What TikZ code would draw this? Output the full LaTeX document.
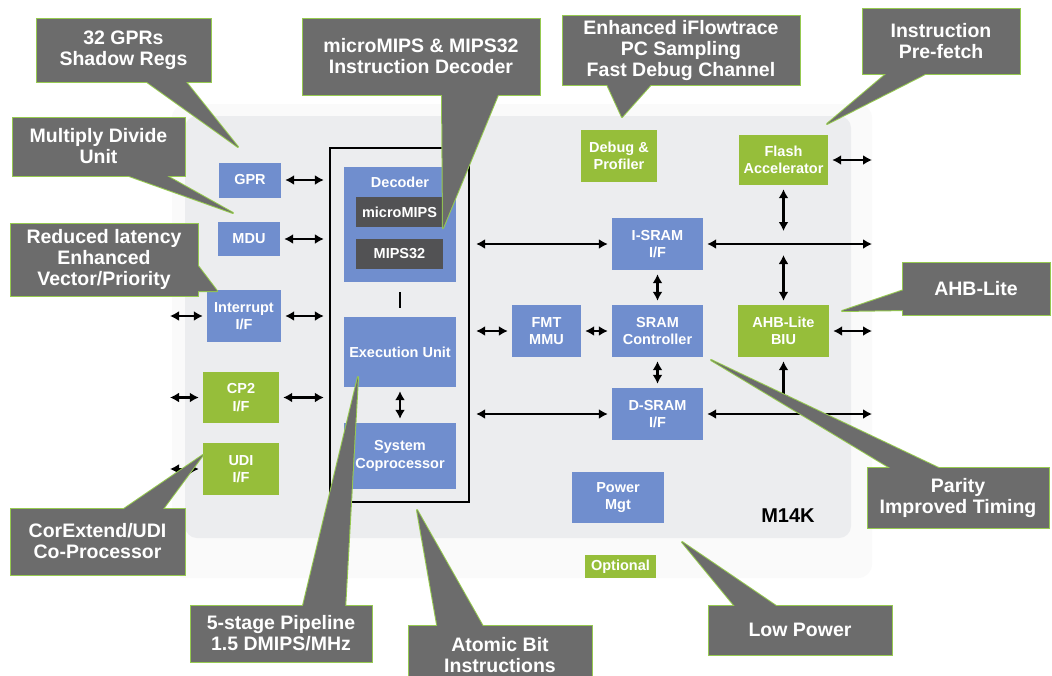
\documentclass[tikz,border=0pt]{standalone}
\usepackage{fontspec}
\setmainfont{Liberation Sans}
\usetikzlibrary{arrows.meta}
\definecolor{blockblue}{RGB}{112,142,206}
\definecolor{blockgreen}{RGB}{150,190,58}
\definecolor{darkbox}{RGB}{82,82,84}
\definecolor{notegray}{RGB}{108,108,108}
\definecolor{noteedge}{RGB}{150,202,80}
\definecolor{coregray}{RGB}{236,237,239}
\tikzset{
  block/.style={fill=blockblue, text=white, inner sep=0pt, align=center,
    font=\fontsize{14.5}{17.5}\selectfont\bfseries},
  opt/.style={block, fill=blockgreen},
  sub/.style={block, fill=darkbox},
  note/.style={fill=notegray, draw=noteedge, line width=1pt, text=white, inner sep=0pt,
    align=center, font=\fontsize{19.5}{21}\selectfont\bfseries},
  tipline/.style={draw=noteedge, line width=2pt, line join=round},
  link/.style={<->, line width=2.3pt, shorten <=4pt, shorten >=4pt}
}
% pointer of each callout: base point, tip, base point
\def\pointers{140/77/238/147/182/77, 115/171/233/213/158/171, 192/258/217/291/185/291,
  442/90/443/228/500/90, 605/80/622/117/655/80, 892/69/827/124/935/69,
  907/289/842/311/907/310, 897/472/711/360/947/472, 738/610/682/542/782/610,
  438/630/417/510/485/630, 302/610/358/377/345/610, 118/513/203/455/160/513}
\begin{document}
\begin{tikzpicture}[x=1pt, y=-1pt, >={Latex[length=9pt,width=10pt]}]
\useasboundingbox (0,0) rectangle (1052,675);
\clip (0,0) rectangle (1052,675);
\fill[white] (0,0) rectangle (1052,675);

% M14K core area
\fill[black!2, rounded corners=14pt] (172,104) rectangle (872,578);
\fill[coregray, rounded corners=12pt] (185,116) rectangle (851,538);
\node[font=\fontsize{20}{24}\selectfont\bfseries] (m14k) at (788,516) {M14K};

% pipeline frame and its blocks
\node[draw=black, line width=2.3pt, minimum width=139pt, minimum height=354pt, inner sep=0pt] (core) at (399.5,325) {};
\node[block, minimum width=112pt, minimum height=115pt,
  label={[anchor=north, yshift=-7pt, text=white, font=\fontsize{14.5}{17.5}\selectfont\bfseries]north:Decoder}] (decoder) at (400,224.5) {};
\node[sub, minimum width=87pt, minimum height=30pt] (umips) at (399.5,212) {microMIPS};
\node[sub, minimum width=87pt, minimum height=30pt] (mips32) at (399.5,254) {MIPS32};
\node[block, minimum width=112pt, minimum height=70pt] (exec) at (400,352) {Execution Unit};
\node[block, minimum width=112pt, minimum height=66pt] (syscop) at (400,456) {System\\Coprocessor};
\draw[line width=2.3pt, shorten <=10pt, shorten >=9pt] (decoder) -- (exec);
\draw[link] (exec) -- (syscop);

% left side
\node[block, minimum width=62pt, minimum height=35pt] (gpr) at (250,180) {GPR};
\node[block, minimum width=62pt, minimum height=34pt] (mdu) at (249,239) {MDU};
\node[block, minimum width=74pt, minimum height=52pt] (intr) at (244,316) {Interrupt\\I/F};
\node[opt, minimum width=76pt, minimum height=51pt] (cp2) at (241,397.5) {CP2\\I/F};
\node[opt, minimum width=76pt, minimum height=52pt] (udi) at (241,469) {UDI\\I/F};
\coordinate (intrin) at (166,316);
\coordinate (cp2in) at (166,397.5);
\coordinate (udiin) at (166,469);

\foreach \n in {gpr,mdu,intr,cp2}
  \draw[link, shorten >=5pt] (\n) -- (\n -| core.west);
\foreach \n in {intr,cp2,udi}
  \draw[link] (\n in) -- (\n);

% right side
\node[opt, minimum width=76pt, minimum height=52pt] (debug) at (619,156) {Debug \&\\Profiler};
\node[block, minimum width=91pt, minimum height=52pt] (isram) at (657.5,244) {I-SRAM\\I/F};
\node[block, minimum width=91pt, minimum height=52pt] (sramc) at (657.5,331) {SRAM\\Controller};
\node[block, minimum width=91pt, minimum height=52pt] (dsram) at (657.5,414) {D-SRAM\\I/F};
\node[block, minimum width=69pt, minimum height=52pt] (fmt) at (546.5,331) {FMT\\MMU};
\node[block, minimum width=92pt, minimum height=51pt] (power) at (618,497.5) {Power\\Mgt};
\node[opt, minimum width=89pt, minimum height=50pt] (flash) at (783.5,160) {Flash\\Accelerator};
\node[opt, minimum width=91pt, minimum height=52pt] (ahb) at (783.5,331) {AHB-Lite\\BIU};
\node[opt, minimum width=71pt, minimum height=23pt] (optional) at (620.5,566.5) {Optional};
\coordinate (ibus) at (876,244);
\coordinate (dbus) at (876,414);
\coordinate (flashout) at (876,160);
\coordinate (ahbout) at (876,331);

\foreach \n in {isram,fmt,dsram}
  \draw[link, shorten <=6pt] (\n -| core.east) -- (\n);
\draw[link] (fmt) -- (sramc);
\draw[link] (isram) -- (sramc);
\draw[link] (sramc) -- (dsram);
\draw[link] (isram) -- (ibus);
\draw[link] (dsram) -- (dbus);
\draw[link] (flash) -- (flashout);
\draw[link] (ahb) -- (ahbout);
\draw[link, shorten >=13pt] (flash) -- (flash |- ibus);
\draw[link, shorten <=11pt] (flash |- ibus) -- (ahb);
\draw[link, shorten >=10pt] (ahb) -- (ahb |- dbus);

% callouts
\foreach \ax/\ay/\tx/\ty/\bx/\by in \pointers
  \draw[tipline] (\ax,\ay) -- (\tx,\ty) -- (\bx,\by);
\node[note, minimum width=175pt, minimum height=64pt] (gprnote) at (123.5,50) {32 GPRs\\Shadow Regs};
\node[note, minimum width=173pt, minimum height=59pt] (mdunote) at (98.5,146.5) {Multiply Divide\\Unit};
\node[note, minimum width=188pt, minimum height=73pt] (intnote) at (104,259.5) {Reduced latency\\Enhanced\\Vector/Priority};
\node[note, minimum width=238pt, minimum height=77pt] (decnote) at (421,56.5) {microMIPS \& MIPS32\\Instruction Decoder};
\node[note, minimum width=238pt, minimum height=70pt] (dbgnote) at (681,50) {Enhanced iFlowtrace\\PC Sampling\\Fast Debug Channel};
\node[note, minimum width=158pt, minimum height=66pt] (pfnote) at (941,41) {Instruction\\Pre-fetch};
\node[note, minimum width=148pt, minimum height=53pt] (ahbnote) at (976,288.5) {AHB-Lite};
\node[note, minimum width=182pt, minimum height=61pt] (paritynote) at (958,497.5) {Parity\\Improved Timing};
\node[note, minimum width=184pt, minimum height=50pt] (pwrnote) at (800,630) {Low Power};
\node[note, minimum width=184pt, minimum height=60pt] (atomicnote) at (500,655) {Atomic Bit\\Instructions};
\node[note, minimum width=182pt, minimum height=57pt] (pipenote) at (281,633.5) {5-stage Pipeline\\1.5 DMIPS/MHz};
\node[note, minimum width=175pt, minimum height=67pt] (udinote) at (97.5,541.5) {CorExtend/UDI\\Co-Processor};
\foreach \ax/\ay/\tx/\ty/\bx/\by in \pointers
  \fill[notegray] (\ax,\ay) -- (\tx,\ty) -- (\bx,\by) -- cycle;
\end{tikzpicture}
\end{document}
